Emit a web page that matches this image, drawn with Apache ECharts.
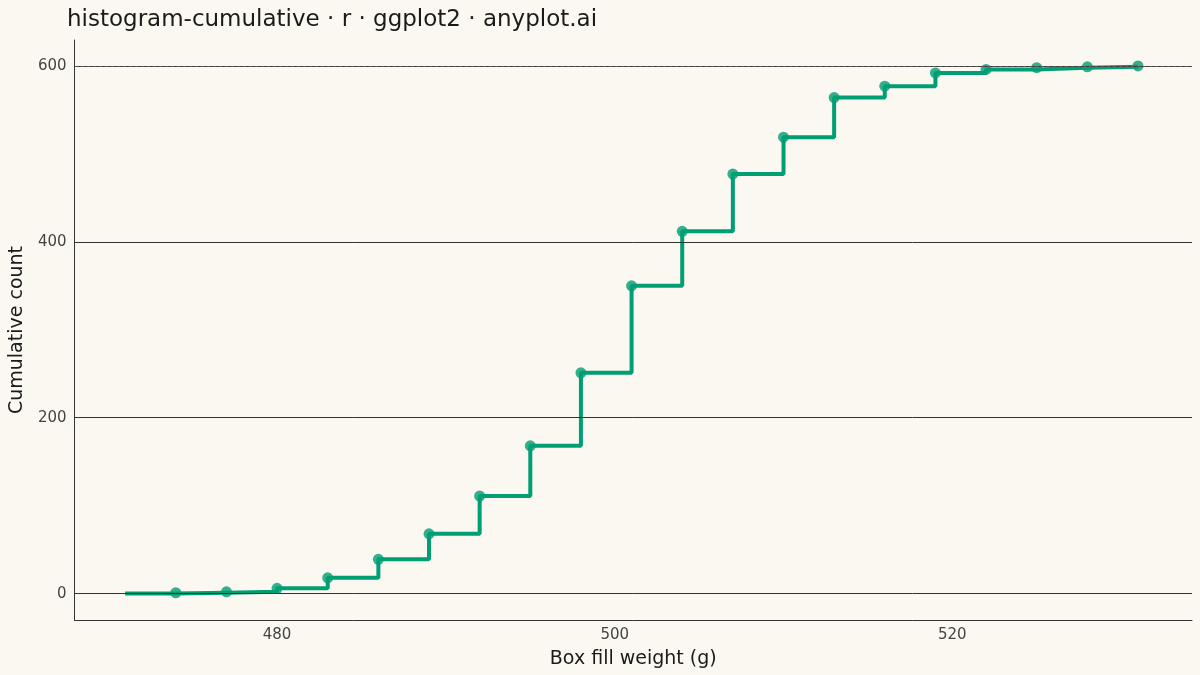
<!DOCTYPE html>
<html><head><meta charset="utf-8">
<script src="https://cdn.jsdelivr.net/npm/echarts@6/dist/echarts.min.js"></script>
<style>html,body{margin:0;background:#FAF8F1}#c{width:1200px;height:675px}</style>
</head><body><div id="c"></div>
<script>
const binEdges = [471,474,477,480,483,486,489,492,495,498,501,504,507,510,513,516,519,522,525,528,531];
const cumCounts = [0,1,2,6,18,39,68,111,168,251,350,412,477,519,564,577,592,596,598,599,600];
const yTicks = [0,200,400,600];
const xTicks = [480,500,520];
const total = 600;

const lineData = binEdges.map((x,i)=>[x,cumCounts[i]]);
const ptData = lineData.slice(1);
const chart = echarts.init(document.getElementById('c'));
chart.setOption({
  backgroundColor:'#FAF8F1',
  animation:false,
  title:{text:'histogram-cumulative · r · ggplot2 · anyplot.ai',left:62,top:4,textStyle:{fontFamily:'DejaVu Sans',fontSize:23,fontWeight:'normal',color:'#1a1a1a'}},
  grid:{left:71,right:8,top:40,bottom:55},
  xAxis:{type:'value',min:468,max:534.2,
    name:'Box fill weight (g)',nameLocation:'middle',nameGap:30,nameTextStyle:{fontFamily:'DejaVu Sans',fontSize:19,color:'#1a1a1a'},
    axisLine:{show:true,onZero:false,lineStyle:{color:'#333'}},axisTick:{show:false},splitLine:{show:false},
    axisLabel:{customValues:xTicks,fontFamily:'DejaVu Sans',fontSize:15,color:'#444'}},
  yAxis:{type:'value',min:-30,max:629.5,
    name:'Cumulative count',nameLocation:'middle',nameGap:46,nameTextStyle:{fontFamily:'DejaVu Sans',fontSize:19,color:'#1a1a1a'},
    axisLine:{show:true,onZero:false,lineStyle:{color:'#333'}},axisTick:{show:false},splitLine:{show:false},
    axisLabel:{customValues:yTicks,fontFamily:'DejaVu Sans',fontSize:15,color:'#444'}},
  series:[
    {type:'line',data:lineData,step:'end',showSymbol:false,lineStyle:{color:'#009E73',width:4},z:3,
     markLine:{silent:true,symbol:'none',label:{show:false},
       data:yTicks.map(v=>({yAxis:v,lineStyle:{color:'#333',width:1,type:'solid'}})).concat([{yAxis:total,lineStyle:{color:'#555',width:1,type:'dashed'}}])}},
    {type:'scatter',data:ptData,symbolSize:11,itemStyle:{color:'#009E73'},z:4}
  ]
});
</script></body></html>
